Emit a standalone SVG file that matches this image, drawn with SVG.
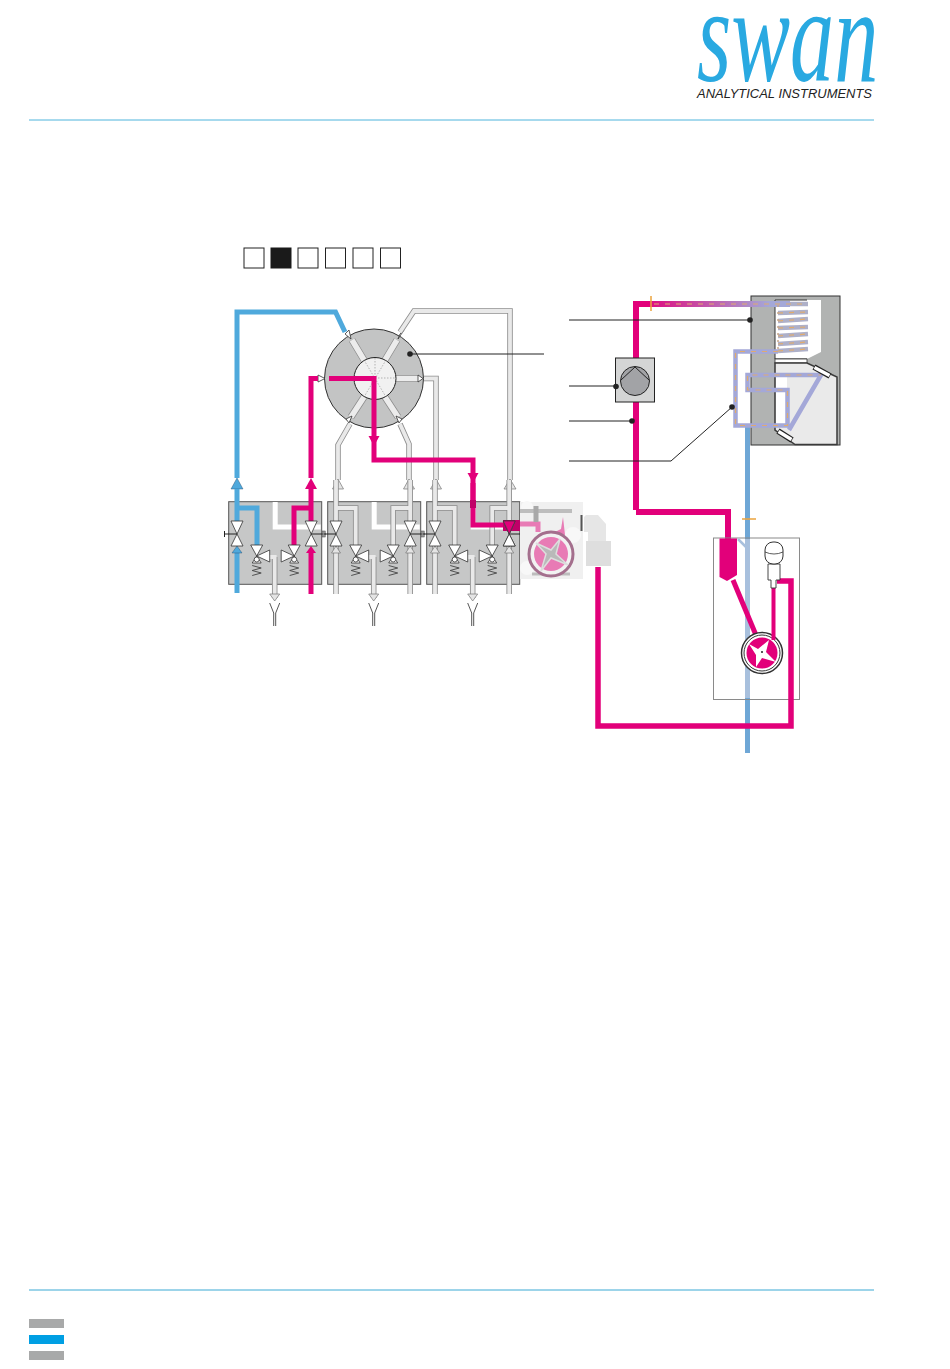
<svg xmlns="http://www.w3.org/2000/svg" width="950" height="1369" viewBox="0 0 950 1369">
<style>
.sq{fill:#fff;stroke:#222;stroke-width:1}
.body{fill:#c6c7c7;stroke:#555;stroke-width:1}
.tri{fill:#fff;stroke:#333;stroke-width:.8}
.sp{fill:none;stroke:#444;stroke-width:.9}
.out{fill:none;stroke:#8d8d8d;stroke-width:5.5}
.in{fill:none;stroke:#e9e9e9;stroke-width:3.8}
.sout{fill:none;stroke:#8d8d8d;stroke-width:7}
.sin{fill:none;stroke:#ececec;stroke-width:5.500}
.wh{fill:none;stroke:#fff;stroke-width:5}
.mag{fill:none;stroke:#e2007a;stroke-width:5}
.blu{fill:none;stroke:#4fa9dc;stroke-width:5}
.lav{fill:none;stroke:#a4a8d8;stroke-width:4.5}
.coil{fill:none;stroke:#aeb0c8;stroke-width:4.5}
.dash{fill:none;stroke:#e0ab6e;stroke-width:1.2;stroke-dasharray:5 6}
.lead{fill:none;stroke:#222;stroke-width:1}
.dot{fill:#222}
.at-g{fill:#e4e4e4;stroke:#777;stroke-width:.7}
.at-m{fill:#e2007a}
.at-b{fill:#4fa9dc;stroke:#246;stroke-width:.4}
</style>
<defs>
<linearGradient id="fade" gradientUnits="userSpaceOnUse" x1="640" y1="0" x2="770" y2="0"><stop offset="0" stop-color="#e2007a"/><stop offset="1" stop-color="#a4a8d8"/></linearGradient>
<g id="main"><path class="tri" d="M-6,-13H6L0,0Z"/><path class="tri" d="M-6,12H6L0,0Z"/></g>
<g id="side"><path class="tri" d="M-6,-11H6L0,0Z"/><path class="tri" d="M-4.500,7H4.500L0,0Z"/><circle class="tri" cx="0" cy="3.500" r="2.500"/><path class="sp" d="M-4.500,9.500L4.500,12L-4.500,14.500L4.500,17L-4.500,19.500"/></g>
<g id="vset">
<use href="#main" x="8.300" y="534"/><use href="#main" x="82.500" y="534"/>
<use href="#side" x="28" y="556"/><use href="#side" x="65.500" y="556"/>
<path class="tri" d="M28,556L41,550V562Z"/><path class="tri" d="M65.500,556L52.500,550V562Z"/>
<path class="lead" d="M-4,534H8.300M82.500,534H97"/>
<rect x="94" y="531" width="2.500" height="6" fill="#999" stroke="#444" stroke-width=".5"/>
</g>
<g id="base">
<rect class="body" x="0" y="501.700" width="93" height="82.600"/>
<path class="wh" d="M46.500,502V527H92"/>
<path class="out" d="M46,557V598"/><path class="in" d="M38,557H46V598"/>
<path class="at-g" d="M41,594H51L46,601Z"/>
<path d="M41,603L45,613V626M51,603L47,613V626" fill="none" stroke="#444" stroke-width=".9"/>
</g>
<g id="grayv">
<path class="out" d="M8.300,480V521M8.300,508H28V545M82.500,480V521M82.500,508H65.500V545M8.300,546V594M82.500,546V594"/>
<path class="in" d="M8.300,480V521M8.300,508H28V545M82.500,480V521M82.500,508H65.500V545M8.300,546V594M82.500,546V594"/>
<path class="at-g" d="M3.800,553L8.300,546L12.800,553Z"/><path class="at-g" d="M78,553L82.500,546L87,553Z"/>
</g>
</defs>

<g id="header">
<text transform="translate(697,81) scale(.653,1)" font-family="'Liberation Serif',serif" font-style="italic" font-size="135" fill="#29a9e1">swan</text>
<text x="697" y="98" font-family="'Liberation Sans',sans-serif" font-style="italic" font-size="12.500" textLength="175" lengthAdjust="spacingAndGlyphs" fill="#222">ANALYTICAL INSTRUMENTS</text>
<path d="M29,120H874" stroke="#4fb4dc" stroke-width="1" fill="none"/>
</g>
<g id="step-indicator">
<rect class="sq" x="244" y="248" width="20" height="20"/>
<rect x="271" y="248" width="20" height="20" fill="#1a1a1a" stroke="#1a1a1a"/>
<rect class="sq" x="298" y="248" width="20" height="20"/>
<rect class="sq" x="325.500" y="248" width="20" height="20"/>
<rect class="sq" x="353" y="248" width="20" height="20"/>
<rect class="sq" x="380.500" y="248" width="20" height="20"/>
</g>

<g id="rotary-valve">
<circle cx="374" cy="378.500" r="49.500" fill="#c3c4c4" stroke="#333" stroke-width="1"/>
<path class="sout" d="M352,340L364,360M397,340L385,360M351,417L364,397M398,417L385,397M396,378.500H418"/>
<path class="sin" d="M352,340L364,360M397,340L385,360M351,417L364,397M398,417L385,397M396,378.500H418"/>
<circle cx="375" cy="378.500" r="21" fill="#f1f1f1" stroke="#222" stroke-width="1"/>
<path d="M364,360L386,397M386,360L364,397M354,378H396M375,358V399" stroke="#888" stroke-width=".6" stroke-dasharray="1.500 1.500" fill="none"/>
<path class="tri" d="M345,334L349,330L351,339Z"/><path class="tri" d="M404,330L400,334L398,339Z"/>
<path class="tri" d="M349,423L346,419L352,416Z"/><path class="tri" d="M399,423L402,419L396,416Z"/>
<path class="tri" d="M325,378.500L318,375V382Z"/><path class="tri" d="M423,378.500L418,375V382Z"/>
</g>

<g id="connectors">
<path class="out" d="M400,332L414,311H510V480M424,378.500H436V480M350,424L338,445V480M400,424L409,444V480"/>
<path class="in" d="M400,332L414,311H510V480M424,378.500H436V480M350,424L338,445V480M400,424L409,444V480"/>
<path class="at-g" d="M332.500,489L338,479L343.500,489Z"/><path class="at-g" d="M403.500,489L409,479L414.500,489Z"/>
<path class="at-g" d="M430.500,489L436,479L441.500,489Z"/><path class="at-g" d="M504,489L510,479L516,489Z"/>
<path class="blu" d="M237,478V312H335.500L345,332"/>
<path class="mag" d="M311,478V378.500H318M329,378.500H374V460H473V500"/>
<path class="at-m" d="M368.500,436H379.500L374,446Z"/>
<path class="at-m" d="M467.500,473H478.500L473,483Z"/>
<path class="at-b" d="M231,489L237,478L243,489Z"/>
<path class="at-m" d="M305,489L311,478L317,489Z"/>
</g>

<g id="valve-block-1">
<use href="#base" x="228.700"/>
<path class="blu" d="M237,489V521M237,508H257V545"/>
<path class="blu" d="M237,552V593"/>
<path class="at-b" d="M232,553L237,546L242,553Z"/>
<path class="mag" d="M311,489V521M311,508H294V545"/>
<path class="mag" d="M311,552V594"/>
<path class="at-m" d="M306,553L311,546L316,553Z"/>
<use href="#vset" x="228.700"/>
<path d="M224.500,531V537" stroke="#222" fill="none"/>
</g>
<g id="valve-block-2">
<use href="#base" x="327.700"/>
<use href="#grayv" x="327.700"/>
<use href="#vset" x="327.700"/>
</g>
<g id="valve-block-3">
<use href="#base" x="426.700"/>
<use href="#grayv" x="426.700"/>
<use href="#vset" x="426.700"/>
<path class="mag" d="M473,483V525H510"/>
<rect x="470" y="500" width="6" height="8" fill="#c00068"/>
<rect x="503" y="520" width="17" height="11" fill="#c00068"/>
<use href="#main" x="509.200" y="534"/>
<path d="M503.500,521H515L509.200,534Z" fill="#e2007a" stroke="#333" stroke-width=".6"/>
</g>

<g id="sample-pump">
<rect x="520" y="502" width="63" height="77" fill="#f0f0f0"/>
<circle cx="527" cy="507" r="6" fill="#f8f8f8"/><circle cx="527" cy="568" r="7" fill="#f8f8f8"/><circle cx="573" cy="535" r="8" fill="#f8f8f8"/>
<path d="M520,511H572" stroke="#bdbdbd" stroke-width="4" fill="none"/>
<path d="M532,574H570" stroke="#bdbdbd" stroke-width="3" fill="none"/>
<path d="M520,524H538V532" stroke="#e87bb5" stroke-width="5" fill="none"/>
<path d="M536,506V522" stroke="#a8a8a8" stroke-width="5" fill="none"/>
<path d="M563,517L561,529L553,533L565,535Z" fill="#e87bb5"/>
<circle cx="551" cy="554" r="22" fill="#f2f2f2" stroke="#a46f8d" stroke-width="3"/>
<circle cx="551" cy="554" r="17" fill="#e87bb5"/>
<path d="M536,543L551,550L560,539L556,554L568,565L551,558L541,571L546,554Z" fill="#b9b9b9" stroke="#dddddd" stroke-width="1.500"/>
<path d="M581.500,515V531" stroke="#555" stroke-width="2" fill="none"/>
<path d="M586,515H598L606,524V543H588V532H584V517Z" fill="#e6e6e6"/>
<rect x="586" y="541" width="25" height="25" fill="#dedede"/>
</g>

<g id="reactor">
<rect x="751" y="296" width="89" height="149" fill="#b1b3b2" stroke="#333" stroke-width="1"/>
<path d="M775,300H821V352L807,359H775Z" fill="#fff"/>
<path d="M775,300H807M775,300V359M775,359H807" fill="none" stroke="#333" stroke-width="1"/>
<rect x="775" y="359" width="32" height="4" fill="#fff" stroke="#333" stroke-width=".8"/>
<path d="M775,363H807L837,377V444.500H795L775,430Z" fill="#eaeaea" stroke="#3a3a3a" stroke-width="1.500"/>
<rect x="776" y="375" width="11" height="50" fill="#fff"/>
</g>

<g id="flow-right">
<rect x="737.500" y="354" width="10" height="70" fill="#fff"/>
<path d="M747.500,427V753" stroke="#6fa7d6" stroke-width="5" fill="none"/>
<path d="M747.500,539V698" stroke="#a8c0dd" stroke-width="5" fill="none"/>
<path d="M636,510V304H651" stroke="#e2007a" stroke-width="6" fill="none"/>
<path d="M636,512H728V540" stroke="#e2007a" stroke-width="6" fill="none"/>
<path d="M651,304H790" stroke="url(#fade)" stroke-width="6" fill="none"/>
<path class="coil" d="M778,351L808,349M778,344L808,342M778,336L808,334M778,328L808,327M778,321L808,319M778,313L808,312M790,304H808"/>
<path class="dash" d="M654,304H808M778,351L808,349M778,344L808,342M778,336L808,334M778,328L808,327M778,321L808,319M778,313L808,312"/>
<path d="M778,305L778,351" stroke="#c9a88a" stroke-width="1.500" stroke-dasharray="2 5" fill="none"/>
<path class="lav" d="M778,351.500H735.500V425.500H787.500V390H747.500V375H821L789,430"/>
<path class="dash" d="M778,351.500H735.500V425.500H787.500V390H747.500V375H821"/>
<path d="M651,296V311" stroke="#eba33c" stroke-width="1.500" fill="none"/>
<path d="M742,519H756" stroke="#eba33c" stroke-width="1.500" fill="none"/>
<path d="M814,367L830,376" stroke="#222" stroke-width="6" fill="none"/><path d="M814.500,367.500L829.500,375.500" stroke="#fff" stroke-width="3.500" fill="none"/>
<path d="M778,431L792,440" stroke="#222" stroke-width="6" fill="none"/><path d="M778.500,431.500L791.500,439.500" stroke="#fff" stroke-width="3.500" fill="none"/>
</g>

<g id="detector">
<rect x="615.500" y="358" width="39" height="44" fill="#d4d5d5" stroke="#222" stroke-width="1"/>
<circle cx="635" cy="381" r="14.500" fill="#a2a3a6" stroke="#222" stroke-width="1"/>
<path d="M621,380L635,367L649,380" fill="none" stroke="#222" stroke-width="1"/>
</g>

<g id="dosing-module">
<rect x="713.500" y="538" width="86" height="161.500" fill="none" stroke="#8a8a8a" stroke-width="1"/>
<path d="M738,539L747,548" stroke="#a8c0dd" stroke-width="2.500" fill="none"/>
<path d="M719.500,538.500H737V575L727,581L719.500,577Z" fill="#e2007a"/>
<path d="M733,580L758,640" stroke="#e2007a" stroke-width="5" fill="none"/>
<circle cx="762" cy="653" r="20.500" fill="#fff" stroke="#333" stroke-width="1.500"/>
<circle cx="762" cy="653" r="18" fill="#fff" stroke="#333" stroke-width="1"/>
<circle cx="762" cy="653" r="15.500" fill="#e2007a"/>
<path d="M749,644L758,649L769,640L766,652L776,662L762,658L756,667L756,655Z" fill="#fff"/>
<circle cx="762" cy="652" r="1" fill="#222"/>
<path d="M773.500,586V640" stroke="#e2007a" stroke-width="4" fill="none"/>
<path d="M777,581H791V726H598V567" stroke="#e2007a" stroke-width="5.500" fill="none"/>
<path d="M768,564H780V580H776V588H771V580H768Z" fill="#fff" stroke="#333" stroke-width=".9"/>
<rect x="765" y="542" width="18" height="22" rx="8" fill="#fff" stroke="#333" stroke-width="1"/>
<path d="M765,552Q774,556 783,552" fill="none" stroke="#333" stroke-width=".8"/>
</g>

<g id="leaders">
<path class="lead" d="M569,320H750M544,354H410M569,386H616M569,421H632M569,461H671L732,407"/>
<circle class="dot" cx="750" cy="320" r="2.800"/><circle class="dot" cx="410" cy="354" r="2.800"/>
<circle class="dot" cx="616" cy="386.500" r="2.800"/><circle class="dot" cx="632" cy="421" r="2.800"/><circle class="dot" cx="732" cy="407" r="2.800"/>
</g>

<g id="footer">
<path d="M29,1290H874" stroke="#3aa9d4" stroke-width="1" fill="none"/>
<rect x="29" y="1319" width="35" height="9" fill="#a8a9a9"/>
<rect x="29" y="1335" width="35" height="9" fill="#009fe3"/>
<rect x="29" y="1351" width="35" height="9" fill="#a8a9a9"/>
</g>
</svg>
